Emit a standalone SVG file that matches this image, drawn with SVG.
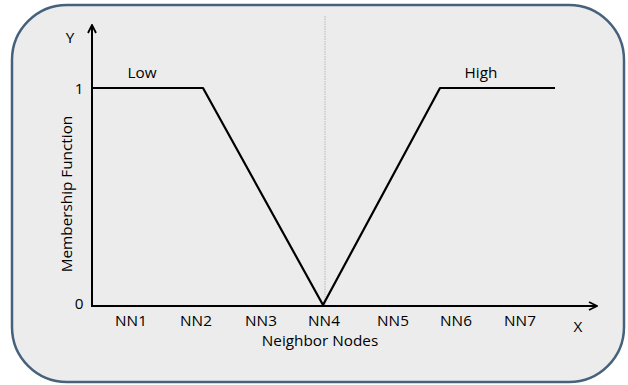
<svg xmlns="http://www.w3.org/2000/svg" width="628" height="385" viewBox="0 0 628 385">
  <defs>
    <marker id="arrow" viewBox="0 0 10 10" refX="9" refY="5" markerWidth="10" markerHeight="10" markerUnits="userSpaceOnUse" orient="auto">
      <path d="M1,1 L9,5 L1,9" fill="none" stroke="#000" stroke-width="1.8"/>
    </marker>
    <style>
      .lbl { font-family: "Open Sans", "Liberation Sans", sans-serif; font-size: 15.3px; fill: #000; }
      .axis { stroke: #000; stroke-width: 2; fill: none; }
      .curve { stroke: #000; stroke-width: 2.2; fill: none; stroke-linejoin: round; }
    </style>
  </defs>

  <rect x="0" y="0" width="628" height="385" fill="#fff"/>
  <!-- panel -->
  <rect id="panel" x="12" y="5" width="612" height="377" rx="55" ry="55" fill="#ececec" stroke="#46617b" stroke-width="2.5"/>

  <!-- centre reference line -->
  <line x1="325" y1="16" x2="325" y2="306" stroke="#b8b8b8" stroke-width="1" stroke-dasharray="1.5,1"/>

  <g id="connectors">
    <line class="axis" x1="92" y1="307" x2="92" y2="25" marker-end="url(#arrow)"/>
    <line class="axis" x1="91" y1="306" x2="597" y2="306" marker-end="url(#arrow)"/>
  </g>

  <g id="low-curve">
    <polyline class="curve" points="92,88 203,88 323,305"/>
  </g>
  <g id="high-curve">
    <polyline class="curve" points="323,305 440,88 555,88"/>
  </g>

  <g id="labels">
    <text class="lbl" x="70" y="43" text-anchor="middle">Y</text>
    <text class="lbl" x="79" y="94" text-anchor="middle">1</text>
    <text class="lbl" x="79" y="309" text-anchor="middle">0</text>
    <text class="lbl" x="142" y="78" text-anchor="middle">Low</text>
    <text class="lbl" x="481" y="78" text-anchor="middle">High</text>
    <text class="lbl" transform="translate(72,194) rotate(-90)" text-anchor="middle">Membership Function</text>
    <text class="lbl" x="131" y="326" text-anchor="middle">NN1</text>
    <text class="lbl" x="196" y="326" text-anchor="middle">NN2</text>
    <text class="lbl" x="261" y="326" text-anchor="middle">NN3</text>
    <text class="lbl" x="324" y="326" text-anchor="middle">NN4</text>
    <text class="lbl" x="393" y="326" text-anchor="middle">NN5</text>
    <text class="lbl" x="456" y="326" text-anchor="middle">NN6</text>
    <text class="lbl" x="520" y="326" text-anchor="middle">NN7</text>
    <text class="lbl" x="578" y="332" text-anchor="middle">X</text>
    <text class="lbl" x="320" y="346" text-anchor="middle">Neighbor Nodes</text>
  </g>
</svg>
